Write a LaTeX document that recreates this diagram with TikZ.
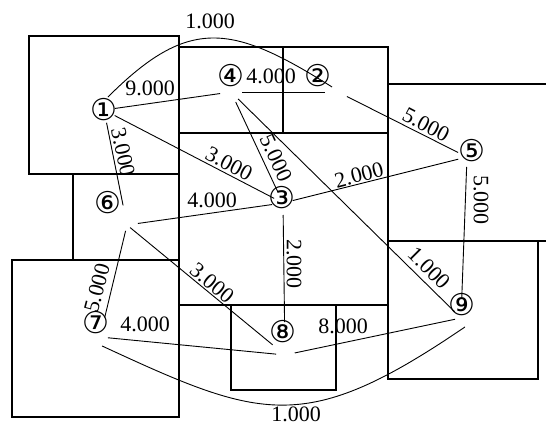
\documentclass[tikz,border=0pt]{standalone}
\usepackage{fontspec}
\setmainfont{Liberation Serif}
\newfontfamily\circfont{DejaVu Sans}
\usetikzlibrary{calc}
\begin{document}
\begin{tikzpicture}[x=1pt,y=-1pt,
  room/.style={line width=1.6pt},
  link/.style={line width=0.9pt},
  wt/.style={font=\fontsize{22}{22}\selectfont, inner sep=0pt},
  lab/.style={font=\circfont\fontsize{30}{30}\selectfont, inner sep=0pt}
]
\useasboundingbox (0,0) rectangle (546,425);
% rooms
\draw[room] (29,36) rectangle (179,174);
\draw[room] (179,47) rectangle (283,133);
\draw[room] (283,47) rectangle (388,133);
\draw[room] (388,84) -- (547,84);
\draw[room] (388,241) -- (547,241);
\draw[room] (179,133) rectangle (388,305);
\draw[room] (73,174) rectangle (179,260);
\draw[room] (12,260) rectangle (179,417);
\draw[room] (231,305) rectangle (336,390);
\draw[room] (388,241) rectangle (538,379);
% anchors
\coordinate (n1) at (104,110);
\coordinate (n2) at (338,92);
\coordinate (n3) at (283,203);
\coordinate (n4) at (231,92);
\coordinate (n5) at (467,157);
\coordinate (n6) at (127,225);
\coordinate (n7) at (100,337);
\coordinate (n8) at (285,355);
\coordinate (n9) at (461,318);
% vertex labels
\node[lab] (l1) at (104,110) {①};
\node[lab] (l2) at (318,76) {②};
\node[lab] (l3) at (282,198) {③};
\node[lab] (l4) at (231,76) {④};
\node[lab] (l5) at (472,151) {⑤};
\node[lab] (l6) at (108,203) {⑥};
\node[lab] (l7) at (96,323) {⑦};
\node[lab] (l8) at (283,332) {⑧};
\node[lab] (l9) at (462,305) {⑨};
% edges
\draw[link] ($(n1)+(-73:13.6)$) .. controls (189,16) and (232,24) .. ($(n2)+(-140:7.8)$);
\draw[link,shorten <=11pt,shorten >=11pt] (n1) -- (n4);
\draw[link,shorten <=12pt,shorten >=10pt] (n1) -- (n3);
\draw[link,shorten <=13pt,shorten >=20pt] (n1) -- (n6);
\draw[link,shorten <=10pt,shorten >=10pt] (n2) -- (n5);
\draw[link,shorten <=11pt,shorten >=13pt] (n4) -- (n2);
\draw[link,shorten <=11pt,shorten >=12pt] (n4) -- (n3);
\draw[link,shorten <=10pt,shorten >=9pt] (n4) -- (n9);
\draw[link,shorten <=10pt,shorten >=9pt] (n3) -- (n5);
\draw[link,shorten <=11pt,shorten >=11pt] (n3) -- (n6);
\draw[link,shorten <=12pt,shorten >=33pt] (n3) -- (n8);
\draw[link,shorten <=10pt,shorten >=20pt] (n5) -- (n9);
\draw[link,shorten <=6pt,shorten >=20pt] (n6) -- (n7);
\draw[link,shorten <=4pt,shorten >=16pt] (n6) -- (n8);
\draw[link,shorten <=8pt,shorten >=9pt] (n7) -- (n8);
\draw[link,shorten <=10pt,shorten >=6pt] (n8) -- (n9);
\draw[link] ($(n7)+(77:9.2)$) .. controls (262,420) and (305,436) .. ($(n9)+(66:9.8)$);
% weights
\node[wt] (w12) at (210,21) {1.000};
\node[wt] (w14) at (150,88) {9.000};
\node[wt,rotate=-27.7] (w13) at (229,164) {3.000};
\node[wt,rotate=-78] (w16) at (123,152) {3.000};
\node[wt,rotate=-27.8] (w25) at (426,125) {5.000};
\node[wt] (w42) at (271,76) {4.000};
\node[wt,rotate=-65.5] (w43) at (276,158) {5.000};
\node[wt,rotate=-45] (w49) at (429,268) {1.000};
\node[wt,rotate=14.3] (w35) at (359,175) {2.000};
\node[wt] (w36) at (212,200) {4.000};
\node[wt,rotate=-90] (w38) at (294,264) {2.000};
\node[wt,rotate=-90] (w59) at (481,200) {5.000};
\node[wt,rotate=75.2] (w67) at (97,288) {5.000};
\node[wt,rotate=-39.7] (w68) at (212,283) {3.000};
\node[wt] (w78) at (145,324) {4.000};
\node[wt] (w89) at (343,326) {8.000};
\node[wt] (w79) at (296,414) {1.000};
\end{tikzpicture}
\end{document}
